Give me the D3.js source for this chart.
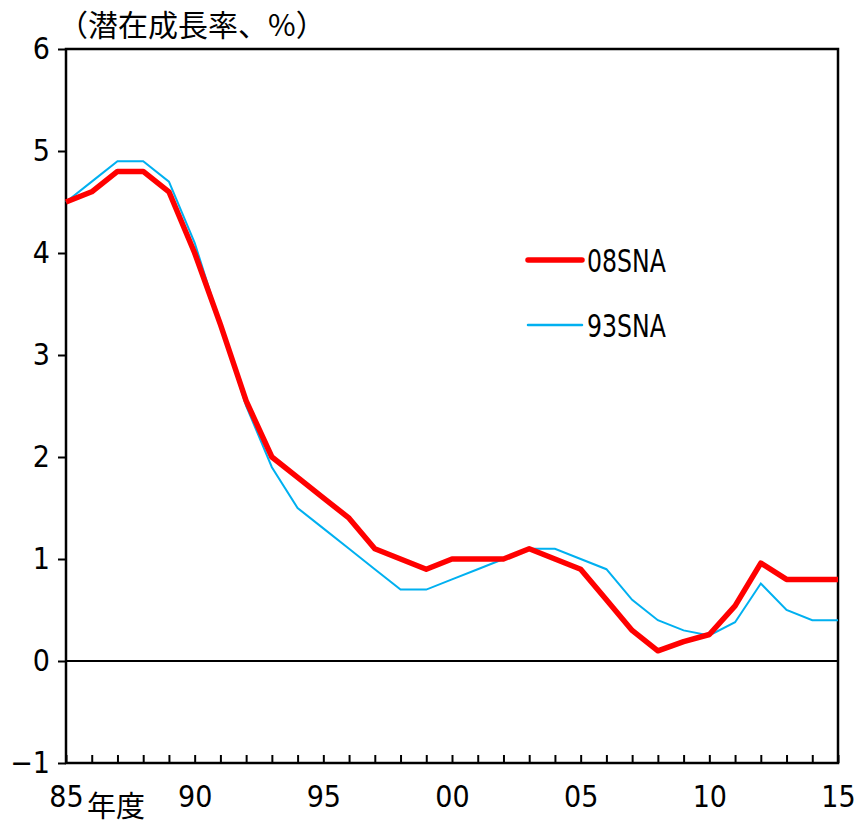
<!DOCTYPE html>
<html>
<head>
<meta charset="utf-8">
<script src="https://cdn.jsdelivr.net/npm/d3@7"></script>
<style>
  body { margin: 0; background: #fff; }
  .num { font-family: "DejaVu Sans Condensed", "Liberation Sans Narrow", "DejaVu Sans", sans-serif; font-stretch: condensed; }
  .jp { font-family: "Noto Sans CJK JP", sans-serif; }
</style>
</head>
<body>
<script>
// fiscal years 1985-2015
const years = d3.range(1985, 2016);
const sna08 = [4.5, 4.6, 4.8, 4.8, 4.6, 4.0, 3.3, 2.55, 2.0, 1.8, 1.6, 1.4, 1.1, 1.0, 0.9,
  1.0, 1.0, 1.0, 1.1, 1.0, 0.9, 0.6, 0.3, 0.1, 0.19, 0.26, 0.54, 0.96, 0.8, 0.8, 0.8];
const sna93 = [4.5, 4.7, 4.9, 4.9, 4.7, 4.1, 3.3, 2.5, 1.9, 1.5, 1.3, 1.1, 0.9, 0.7, 0.7,
  0.8, 0.9, 1.0, 1.1, 1.1, 1.0, 0.9, 0.6, 0.4, 0.3, 0.25, 0.38, 0.76, 0.5, 0.4, 0.4];
const yTicks = [-1, 0, 1, 2, 3, 4, 5, 6];
const seriesNames = ["08SNA", "93SNA"];

const margin = { top: 49, right: 17, bottom: 62, left: 66 };
const W = 855, H = 825;
const width = W - margin.left - margin.right;
const height = H - margin.top - margin.bottom;

const svg = d3.select("body").append("svg")
  .attr("width", W)
  .attr("height", H);

const g = svg.append("g")
  .attr("transform", `translate(${margin.left},${margin.top})`);

const x = d3.scaleLinear().domain([1985, 2015]).range([0, width]);
const y = d3.scaleLinear().domain([-1, 6]).range([height, 0]);

// y axis, ticks outside
const yAxis = g.append("g")
  .attr("class", "num")
  .call(d3.axisLeft(y).tickValues(yTicks).tickSize(8).tickPadding(8)
    .tickFormat(d => d < 0 ? "\u2212" + Math.abs(d) : d));
yAxis.select(".domain").remove();
yAxis.selectAll("line").attr("stroke", "#000").attr("stroke-width", 2);
yAxis.selectAll("text").attr("font-size", 30).attr("fill", "#000");

// x axis, yearly ticks inside, labels every 5 years
const xAxis = g.append("g")
  .attr("class", "num")
  .attr("transform", `translate(0,${height})`)
  .call(d3.axisBottom(x).tickValues(years).tickSizeInner(-8).tickSizeOuter(0).tickPadding(23)
    .tickFormat(d => d % 5 === 0 ? String(d).slice(2) : ""));
xAxis.select(".domain").remove();
xAxis.selectAll("line").attr("stroke", "#000").attr("stroke-width", 2);
xAxis.selectAll("text").attr("font-size", 30).attr("fill", "#000");

// plot frame
g.append("rect")
  .attr("width", width)
  .attr("height", height)
  .attr("fill", "none")
  .attr("stroke", "#000")
  .attr("stroke-width", 2.5);

// zero line
g.append("line")
  .attr("x1", 0).attr("x2", width)
  .attr("y1", y(0)).attr("y2", y(0))
  .attr("stroke", "#000")
  .attr("stroke-width", 2);

const line = d3.line()
  .x((d, i) => x(years[i]))
  .y(d => y(d));

g.append("path")
  .datum(sna93)
  .attr("d", line)
  .attr("fill", "none")
  .attr("stroke", "#00B0F0")
  .attr("stroke-width", 2);

g.append("path")
  .datum(sna08)
  .attr("d", line)
  .attr("fill", "none")
  .attr("stroke", "#FF0000")
  .attr("stroke-width", 5.5)
  .attr("stroke-linejoin", "round");

// legend
const legend = svg.append("g").attr("transform", "translate(528,260)");
const legColors = ["#FF0000", "#00B0F0"];
const legWidths = [5.5, 2.5];
seriesNames.forEach((name, i) => {
  const row = legend.append("g").attr("transform", `translate(0,${i * 65})`);
  row.append("line")
    .attr("x1", 0).attr("x2", 54)
    .attr("stroke", legColors[i])
    .attr("stroke-width", legWidths[i])
    .attr("stroke-linecap", "round");
  row.append("text")
    .attr("class", "num")
    .attr("transform", "translate(59,12) scale(0.82,1)")
    .attr("font-size", 32)
    .text(name);
});

// titles
svg.append("text")
  .attr("class", "jp")
  .attr("x", 58)
  .attr("y", 36)
  .attr("font-size", 30)
  .text("（潜在成長率、%）");

svg.append("text")
  .attr("class", "jp")
  .attr("x", 87)
  .attr("y", 817)
  .attr("font-size", 29)
  .text("年度");
</script>
</body>
</html>
